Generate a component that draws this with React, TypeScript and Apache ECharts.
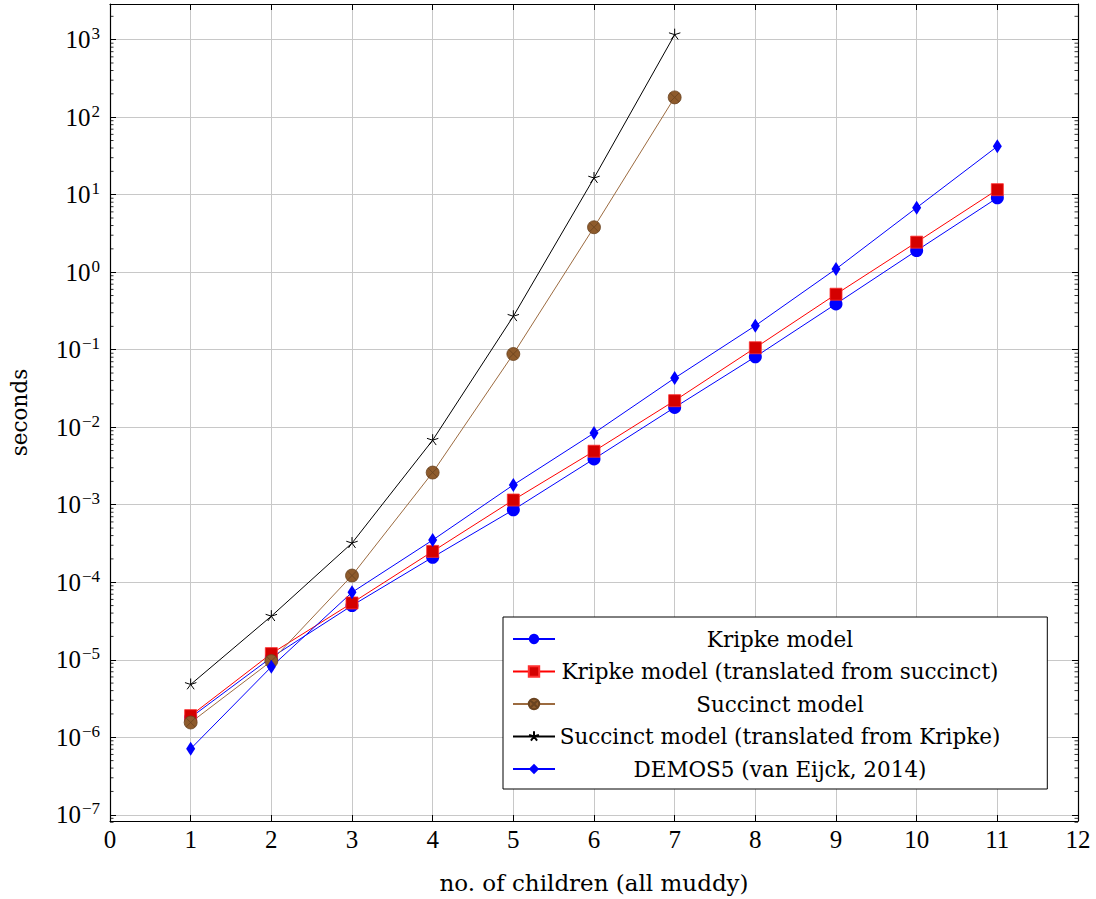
import React, { useEffect, useRef } from "react";
import * as echarts from "echarts";

const TEXT_FONT = "'DejaVu Serif', 'Liberation Serif', serif";
const NUM_FONT = "'Liberation Serif', 'DejaVu Serif', serif";

const children = [1, 2, 3, 4, 5, 6, 7, 8, 9, 10, 11];
const kripke = [1.8e-6, 1.07e-5, 5.0e-5, 2.1e-4, 8.6e-4, 3.9e-3, 1.8e-2, 8.1e-2, 0.39, 1.9, 9.1];
const kripkeTranslated = [1.9e-6, 1.2e-5, 5.4e-5, 2.5e-4, 1.15e-3, 4.9e-3, 2.2e-2, 0.106, 0.52, 2.44, 11.6];
const succinct = [1.55e-6, 9.6e-6, 1.22e-4, 2.6e-3, 0.088, 3.8, 180];
const succinctTranslated = [4.8e-6, 3.65e-5, 3.2e-4, 6.8e-3, 0.27, 16.4, 1160];
const demos5 = [7.1e-7, 8.1e-6, 7.4e-5, 3.5e-4, 1.8e-3, 8.4e-3, 0.043, 0.204, 1.1, 6.8, 42];

const seriesNames = [
  "Kripke model",
  "Kripke model (translated from succinct)",
  "Succinct model",
  "Succinct model (translated from Kripke)",
  "DEMOS5 (van Eijck, 2014)",
];

const xTicks = { min: 0, max: 12, interval: 1 };
// labelled decades 10^-7 .. 10^3; the frame extends a little beyond them
const yTickMin = 1e-7;
const yTickMax = 1e3;
const frameMinExp = -7.11;
const frameMaxExp = 3.46;
const minorMultipliers = [2, 3, 4, 5, 6, 7, 8, 9];
const decades = [-8, -7, -6, -5, -4, -3, -2, -1, 0, 1, 2, 3];

const OTIMES =
  "path://M0,-10 A10,10 0 1,1 0,10 A10,10 0 1,1 0,-10 Z M-7.07,-7.07 L7.07,7.07 M-7.07,7.07 L7.07,-7.07";
const STAR =
  "path://M0,0 L0,-10 M0,0 L9.51,-3.09 M0,0 L5.88,8.09 M0,0 L-5.88,8.09 M0,0 L-9.51,-3.09 M0,10 L0,10 M-10,0 L-10,0 M10,0 L10,0";

function pairs(vals: number[]) {
  return vals.map((v, i) => [children[i], v]);
}

function fmtLog(value: any) {
  const e = Math.log10(Number(value));
  const r = Math.round(e);
  if (!isFinite(e) || Math.abs(e - r) > 1e-3) return "";
  const s = r < 0 ? "\u2212" + Math.abs(r) : String(r);
  return "{b|10}{s|" + s + "}";
}

export default function App() {
  const ref = useRef<HTMLDivElement>(null);
  useEffect(() => {
    if (!ref.current) return;
    const chart = echarts.init(ref.current, null, { renderer: "svg" });

    const H = 899;
    const frameTop = 4;
    const frameBottom = 823.3;
    const decadePx = (frameBottom - frameTop) / (frameMaxExp - frameMinExp);
    const dataTop = frameTop + (frameMaxExp - Math.log10(yTickMax)) * decadePx;
    const dataBottom = frameBottom - (Math.log10(yTickMin) - frameMinExp) * decadePx;

    const yMinFrame = Math.pow(10, frameMinExp);
    const yMaxFrame = Math.pow(10, frameMaxExp);
    const minorTicks: number[][] = [];
    decades.forEach((d) => {
      minorMultipliers.forEach((m) => {
        const v = m * Math.pow(10, d);
        if (v > yMinFrame && v < yMaxFrame) minorTicks.push([0, v]);
      });
    });

    const richLabel = {
      b: { fontSize: 25, fontFamily: NUM_FONT, color: "#000" },
      s: { fontSize: 17, fontFamily: NUM_FONT, color: "#000", padding: [0, 0, 12, 1] },
    };

    const lineBase = { type: "line", z: 3, xAxisIndex: 2, yAxisIndex: 2, clip: false } as any;
    const blackLine = { show: true, onZero: false, lineStyle: { color: "#000", width: 1.2 } };
    const insideTick = { show: true, inside: true, length: 6, lineStyle: { color: "#000", width: 1 } };

    const option: any = {
      animation: false,
      backgroundColor: "#fff",
      grid: [
        { left: 110, right: 18, top: frameTop, bottom: H - frameBottom, containLabel: false },
        { left: 110, right: 18, top: dataTop, bottom: H - dataBottom, containLabel: false },
      ],
      xAxis: [
        {
          gridIndex: 0,
          type: "value",
          min: xTicks.min,
          max: xTicks.max,
          interval: xTicks.interval,
          position: "bottom",
          name: "no. of children (all muddy)",
          nameLocation: "middle",
          nameGap: 50,
          nameTextStyle: { fontFamily: TEXT_FONT, fontSize: 23, color: "#000" },
          axisLine: blackLine,
          axisTick: insideTick,
          axisLabel: { fontFamily: NUM_FONT, fontSize: 25, color: "#000", margin: 6 },
          splitLine: { show: true, lineStyle: { color: "#c8c8c8", width: 1 } },
        },
        {
          gridIndex: 0,
          type: "value",
          min: xTicks.min,
          max: xTicks.max,
          interval: xTicks.interval,
          position: "top",
          axisLine: blackLine,
          axisTick: insideTick,
          axisLabel: { show: false },
          splitLine: { show: false },
        },
        {
          gridIndex: 1,
          type: "value",
          min: xTicks.min,
          max: xTicks.max,
          interval: xTicks.interval,
          show: false,
        },
      ],
      yAxis: [
        {
          gridIndex: 0,
          type: "log",
          min: yMinFrame,
          max: yMaxFrame,
          position: "left",
          name: "seconds",
          nameLocation: "middle",
          nameGap: 80,
          nameRotate: 90,
          nameTextStyle: { fontFamily: TEXT_FONT, fontSize: 21.5, color: "#000" },
          axisLine: blackLine,
          axisTick: { show: false },
          axisLabel: { show: false },
          splitLine: { show: false },
        },
        {
          gridIndex: 0,
          type: "log",
          min: yMinFrame,
          max: yMaxFrame,
          position: "right",
          axisLine: blackLine,
          axisTick: { show: false },
          axisLabel: { show: false },
          splitLine: { show: false },
        },
        {
          gridIndex: 1,
          type: "log",
          logBase: 10,
          min: yTickMin,
          max: yTickMax,
          interval: 1,
          position: "left",
          axisLine: { show: false },
          axisTick: insideTick,
          axisLabel: { show: true, formatter: fmtLog, rich: richLabel, margin: 10, color: "#000" },
          splitLine: { show: true, lineStyle: { color: "#c8c8c8", width: 1 } },
        },
        {
          gridIndex: 1,
          type: "log",
          logBase: 10,
          min: yTickMin,
          max: yTickMax,
          interval: 1,
          position: "right",
          axisLine: { show: false },
          axisTick: insideTick,
          axisLabel: { show: false },
          splitLine: { show: false },
        },
      ],
      legend: {
        orient: "vertical",
        left: 503,
        top: 617,
        data: seriesNames,
        itemWidth: 42,
        itemHeight: 13,
        itemGap: 10.5,
        padding: [11, 47, 9, 9],
        borderColor: "#000",
        borderWidth: 1,
        borderRadius: 0,
        backgroundColor: "#fff",
        selectedMode: false,
        formatter: (name: string) => "{c|" + name + "}",
        textStyle: {
          rich: {
            c: { width: 440, align: "center", fontSize: 21.5, fontFamily: TEXT_FONT, lineHeight: 24, color: "#000" },
          },
        },
      },
      series: [
        {
          type: "custom",
          name: "minorTicks",
          silent: true,
          clip: false,
          xAxisIndex: 2,
          yAxisIndex: 2,
          data: minorTicks,
          z: 1,
          renderItem: (params: any, api: any) => {
            const cs = params.coordSys;
            const y = api.coord([0, api.value(1)])[1];
            const style = { stroke: "#000", lineWidth: 0.8 };
            return {
              type: "group",
              children: [
                { type: "line", shape: { x1: cs.x, y1: y, x2: cs.x + 3.5, y2: y }, style },
                { type: "line", shape: { x1: cs.x + cs.width - 3.5, y1: y, x2: cs.x + cs.width, y2: y }, style },
              ],
            };
          },
        },
        {
          ...lineBase,
          name: seriesNames[0],
          data: pairs(kripke),
          symbol: "circle",
          symbolSize: 13,
          lineStyle: { color: "#0000ff", width: 1 },
          itemStyle: { color: "#0000ff" },
        },
        {
          ...lineBase,
          name: seriesNames[1],
          data: pairs(kripkeTranslated),
          symbol: "rect",
          symbolSize: 12,
          lineStyle: { color: "#ff0000", width: 1 },
          itemStyle: { color: "#d40000", borderColor: "#ff3030", borderWidth: 0.8 },
        },
        {
          ...lineBase,
          name: seriesNames[2],
          data: pairs(succinct),
          symbol: OTIMES,
          symbolSize: 13,
          lineStyle: { color: "#9c6b40", width: 1 },
          itemStyle: { color: "#8e5b2c", borderColor: "#6a4320", borderWidth: 0.8 },
        },
        {
          ...lineBase,
          name: seriesNames[3],
          data: pairs(succinctTranslated),
          symbol: STAR,
          symbolSize: 12,
          lineStyle: { color: "#000", width: 1 },
          itemStyle: { color: "#000", borderColor: "#000", borderWidth: 1 },
        },
        {
          ...lineBase,
          name: seriesNames[4],
          data: pairs(demos5),
          symbol: "diamond",
          symbolSize: [9, 14],
          lineStyle: { color: "#0000ff", width: 1 },
          itemStyle: { color: "#0000ff" },
        },
      ],
    };

    chart.setOption(option);
    return () => chart.dispose();
  }, []);

  return (
    <div
      ref={ref}
      style={{ position: "absolute", left: 0, top: 0, width: 1096, height: 899, background: "#fff" }}
    />
  );
}
